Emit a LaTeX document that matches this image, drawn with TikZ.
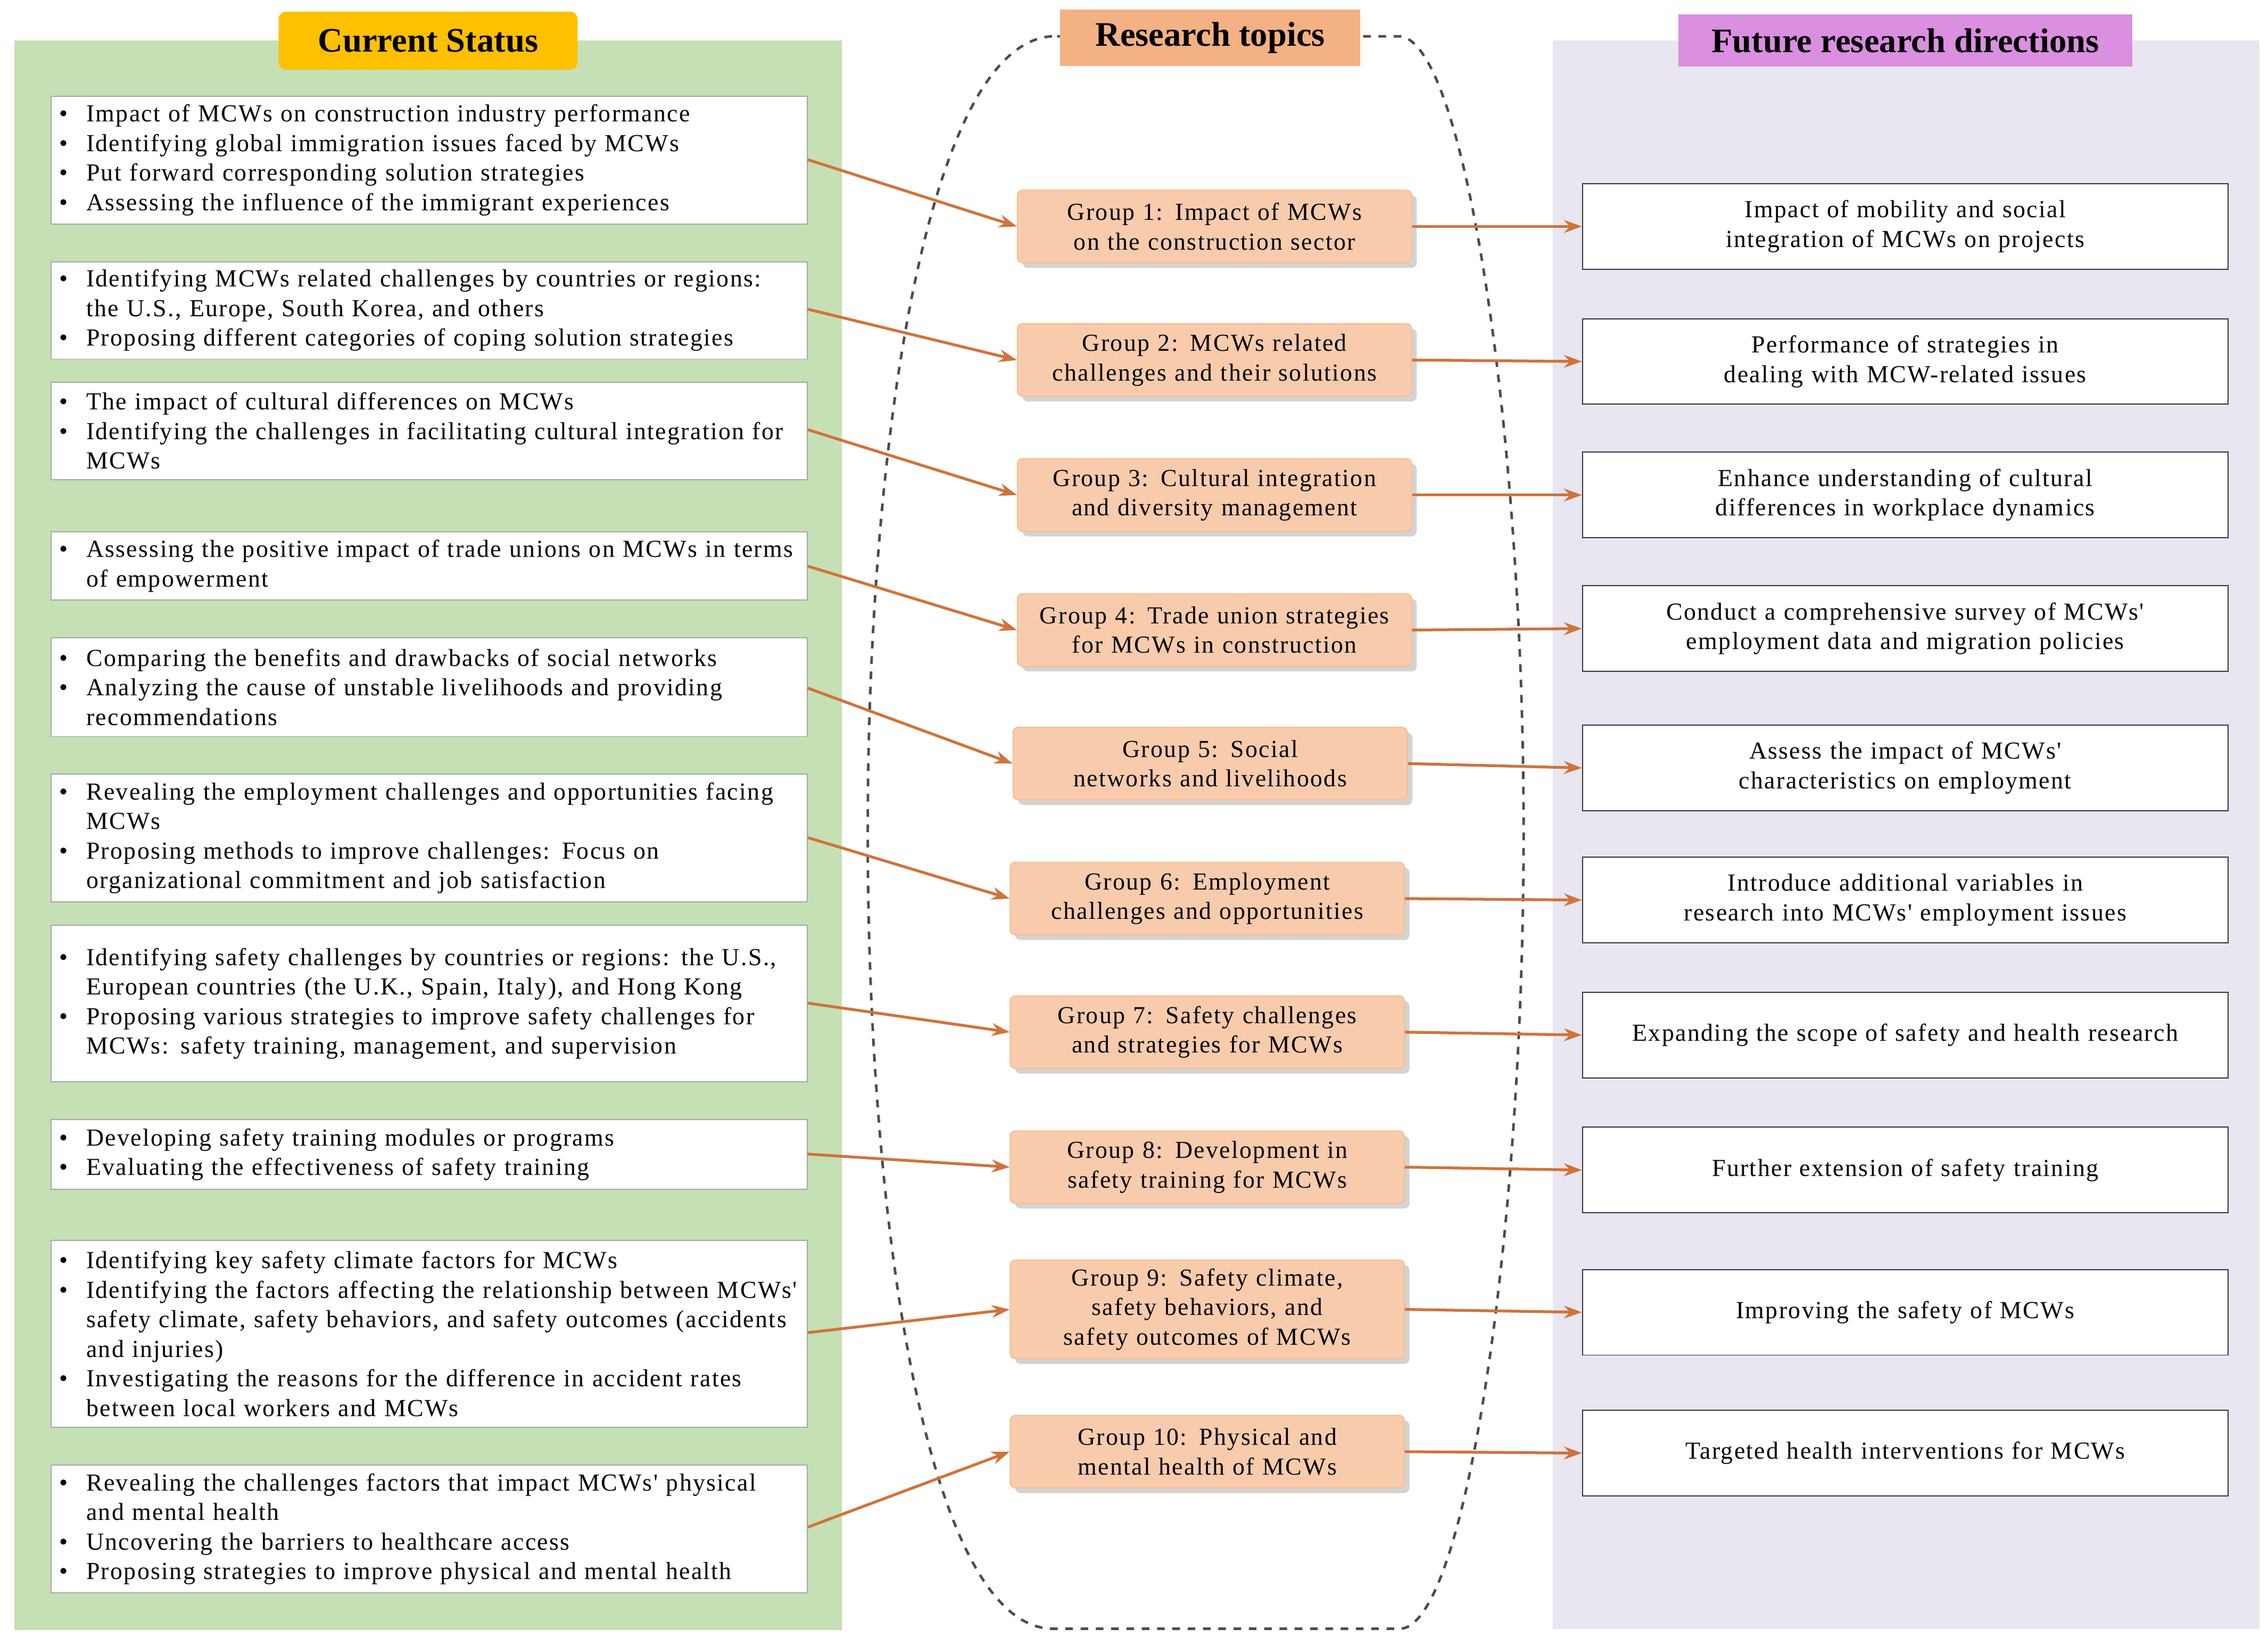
\documentclass[tikz,border=0pt]{standalone}
\usepackage{fontspec}
\setmainfont{Liberation Serif}
\newfontfamily\spc{Liberation Serif}[LetterSpace=5]
\usetikzlibrary{shadows,arrows.meta}
\definecolor{lgreen}{HTML}{C5E0B4}
\definecolor{lav}{HTML}{E8E6F0}
\definecolor{peach}{HTML}{F8CBAD}
\definecolor{arr}{HTML}{D0733A}
\definecolor{ttlY}{HTML}{FFC000}
\definecolor{ttlO}{HTML}{F4B183}
\definecolor{ttlM}{HTML}{DA8FE0}
\newcommand{\nohy}{\hyphenpenalty 10000 \exhyphenpenalty 10000 }
\newcommand{\txtfont}{\spc\fontsize{9.6}{11.6}\selectfont\nohy}
\newcommand{\bu}[1]{\hangindent=1.1em\hangafter=1\noindent\makebox[1.1em][l]{\textbullet}#1\par}
\begin{document}
\begin{tikzpicture}[x=0.02cm,y=-0.02cm,
 txt/.style={font=\txtfont},
 lbox/.style={txt,draw=gray!70,fill=white,text width=10.2cm,align=left,inner sep=3pt,anchor=north west,minimum width=521*0.02cm},
 grp/.style={txt,draw=peach!80!orange,fill=peach,rounded corners=2pt,minimum width=268*0.02cm,minimum height=50*0.02cm,text width=5.2cm,align=center,drop shadow={opacity=0.35,shadow xshift=2pt,shadow yshift=-2pt}},
 rbox/.style={txt,draw=black!80,fill=white,minimum width=445*0.02cm,minimum height=59*0.02cm,text width=8.6cm,align=center},
 ttl/.style={font=\fontsize{13.5}{15}\selectfont\bfseries,rounded corners=3pt,inner sep=0pt,minimum height=40*0.02cm},
 ar/.style={arr,line width=1.1pt,-{Stealth[length=7pt,width=5pt]}}]
\useasboundingbox (0,0) rectangle (1563,1133);
\fill[lgreen] (10,28) rectangle (580,1123);
\fill[lav] (1070,28) rectangle (1557,1122);
\draw[gray!60!black,dashed,line width=1pt] (725,25) .. controls (640,30) and (598,300) .. (598,573) .. controls (598,850) and (640,1120) .. (725,1122) -- (965,1122) .. controls (1010,1120) and (1050,850) .. (1050,573) .. controls (1050,300) and (1010,30) .. (965,25) -- cycle;
\node[ttl,fill=ttlY,minimum width=206*0.02cm] (t1) at (295,28) {Current Status};
\node[ttl,fill=ttlO,minimum width=207*0.02cm,minimum height=39*0.02cm,rounded corners=0pt] (t2) at (834,26) {Research topics};
\node[ttl,fill=ttlM,minimum width=313*0.02cm,minimum height=36*0.02cm,rounded corners=0pt] (t3) at (1313,28) {Future research directions};
% left boxes
\node[lbox,minimum height=88*0.02cm] (l1) at (35,66) {\bu{Impact of MCWs on construction industry performance}\bu{Identifying global immigration issues faced by MCWs}\bu{Put forward corresponding solution strategies}\bu{Assessing the influence of the immigrant experiences}};
\node[lbox,minimum height=67*0.02cm] (l2) at (35,180) {\bu{Identifying MCWs related challenges by countries or regions: the U.S., Europe, South Korea, and others}\bu{Proposing different categories of coping solution strategies}};
\node[lbox,minimum height=67*0.02cm] (l3) at (35,263) {\bu{The impact of cultural differences on MCWs}\bu{Identifying the challenges in facilitating cultural integration for MCWs}};
\node[lbox,minimum height=47*0.02cm] (l4) at (35,366) {\bu{Assessing the positive impact of trade unions on MCWs in terms of empowerment}};
\node[lbox,minimum height=68*0.02cm] (l5) at (35,439) {\bu{Comparing the benefits and drawbacks of social networks}\bu{Analyzing the cause of unstable livelihoods and providing recommendations}};
\node[lbox,minimum height=88*0.02cm] (l6) at (35,533) {\bu{Revealing the employment challenges and opportunities facing MCWs}\bu{Proposing methods to improve challenges: Focus on organizational commitment and job satisfaction}};
\node[lbox,minimum height=108*0.02cm] (l7) at (35,637) {\bu{Identifying safety challenges by countries or regions: the U.S., European countries (the U.K., Spain, Italy), and Hong Kong}\bu{Proposing various strategies to improve safety challenges for MCWs: safety training, management, and supervision}};
\node[lbox,minimum height=48*0.02cm] (l8) at (35,771) {\bu{Developing safety training modules or programs}\bu{Evaluating the effectiveness of safety training}};
\node[lbox,minimum height=129*0.02cm] (l9) at (35,854) {\bu{Identifying key safety climate factors for MCWs}\bu{Identifying the factors affecting the relationship between MCWs' safety climate, safety behaviors, and safety outcomes (accidents and injuries)}\bu{Investigating the reasons for the difference in accident rates between local workers and MCWs}};
\node[lbox,minimum height=88*0.02cm] (l10) at (35,1009) {\bu{Revealing the challenges factors that impact MCWs' physical and mental health}\bu{Uncovering the barriers to healthcare access}\bu{Proposing strategies to improve physical and mental health}};
% groups
\node[grp] (g1) at (837,156) {Group 1: Impact of MCWs on the construction sector};
\node[grp] (g2) at (837,248) {Group 2: MCWs related challenges and their solutions};
\node[grp] (g3) at (837,341) {Group 3: Cultural integration and diversity management};
\node[grp] (g4) at (837,434) {Group 4: Trade union strategies for MCWs in construction};
\node[grp] (g5) at (834,526) {Group 5: Social networks and livelihoods};
\node[grp] (g6) at (832,619) {Group 6: Employment challenges and opportunities};
\node[grp] (g7) at (832,711) {Group 7: Safety challenges and strategies for MCWs};
\node[grp] (g8) at (832,804) {Group 8: Development in safety training for MCWs};
\node[grp,minimum height=64*0.02cm] (g9) at (832,902) {Group 9: Safety climate, safety behaviors, and safety outcomes of MCWs};
\node[grp] (g10) at (832,1000) {Group 10: Physical and mental health of MCWs};
% right boxes
\node[rbox] (r1) at (1313,156) {Impact of mobility and social integration of MCWs on projects};
\node[rbox] (r2) at (1313,249) {Performance of strategies in dealing with MCW-related issues};
\node[rbox] (r3) at (1313,341) {Enhance understanding of cultural differences in workplace dynamics};
\node[rbox] (r4) at (1313,433) {Conduct a comprehensive survey of MCWs' employment data and migration policies};
\node[rbox] (r5) at (1313,529) {Assess the impact of MCWs' characteristics on employment};
\node[rbox] (r6) at (1313,620) {Introduce additional variables in research into MCWs' employment issues};
\node[rbox] (r7) at (1313,713) {Expanding the scope of safety and health research};
\node[rbox] (r8) at (1313,806) {Further extension of safety training};
\node[rbox] (r9) at (1313,904) {Improving the safety of MCWs};
\node[rbox] (r10) at (1313,1001) {Targeted health interventions for MCWs};
% arrows
\foreach \i/\yy in {1/110,2/213,3/296,4/390,5/474,6/577,7/691,8/795,9/918,10/1052}{
  \coordinate (s\i) at (l\i.east |- 0,\yy);
  \draw[ar] (s\i) -- (g\i.west);
  \draw[ar] (g\i.east) -- (r\i.west);
}
\end{tikzpicture}
\end{document}
